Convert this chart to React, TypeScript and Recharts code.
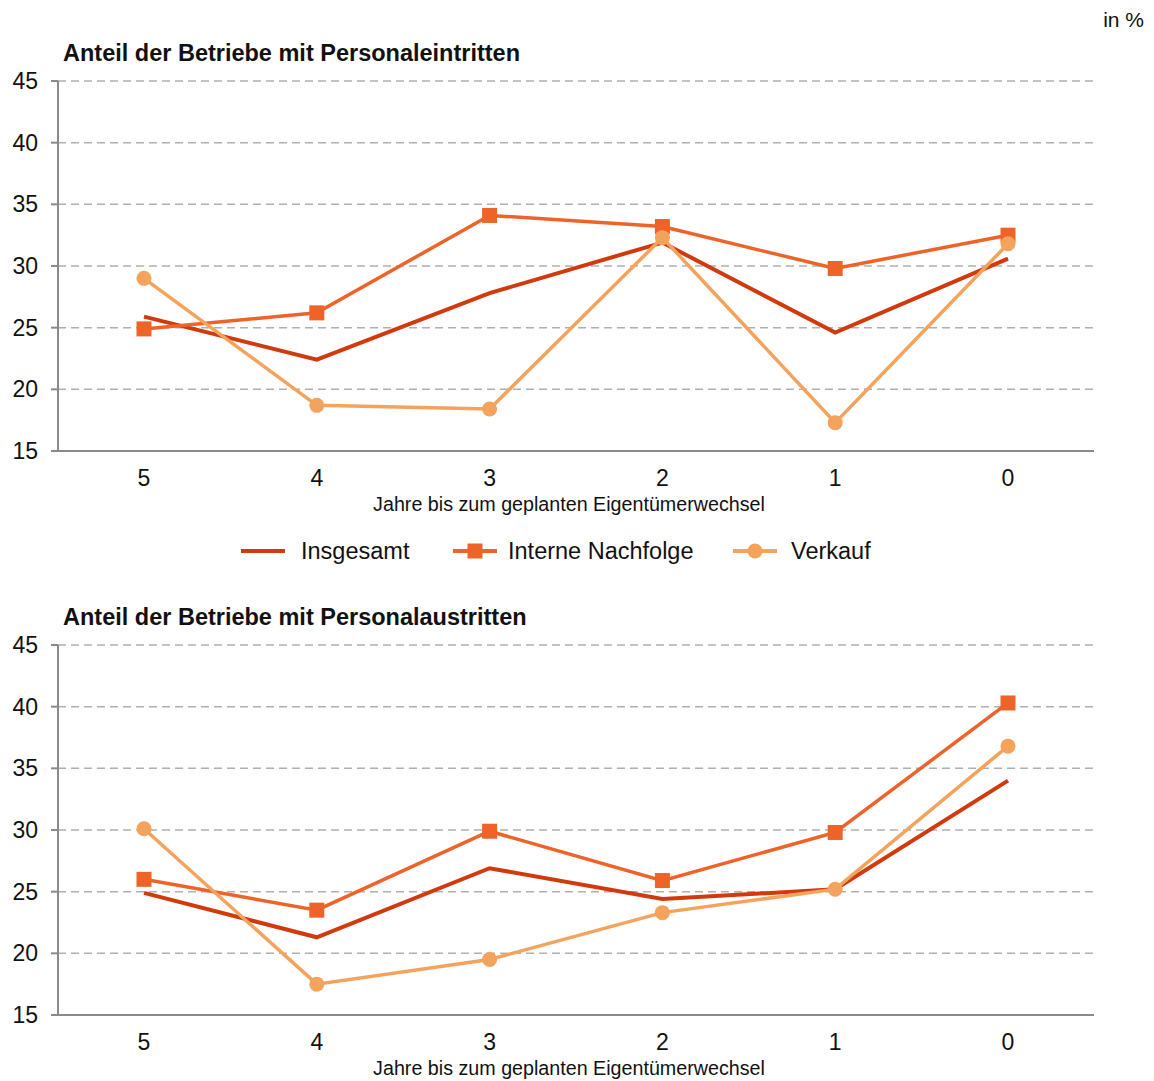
import React from 'react';
import { LineChart, Line, XAxis, YAxis, CartesianGrid } from 'recharts';

const categories = ['5', '4', '3', '2', '1', '0'];
const yTicks = [15, 20, 25, 30, 35, 40, 45];

const seriesNames = ['Insgesamt', 'Interne Nachfolge', 'Verkauf'];

const entryTotal = [25.9, 22.4, 27.8, 31.9, 24.6, 30.6];
const entryInternal = [24.9, 26.2, 34.1, 33.2, 29.8, 32.5];
const entrySale = [29.0, 18.7, 18.4, 32.3, 17.3, 31.8];

const exitTotal = [24.9, 21.3, 26.9, 24.4, 25.2, 34.0];
const exitInternal = [26.0, 23.5, 29.9, 25.9, 29.8, 40.3];
const exitSale = [30.1, 17.5, 19.5, 23.3, 25.2, 36.8];

const COLORS = { total: '#D13A0C', internal: '#EE6328', sale: '#F4A35C' };
const FONT = '"Liberation Sans", Arial, sans-serif';

const buildData = (total: number[], internal: number[], sale: number[]) =>
  categories.map((c, i) => ({ year: c, total: total[i], internal: internal[i], sale: sale[i] }));

const entryData = buildData(entryTotal, entryInternal, entrySale);
const exitData = buildData(exitTotal, exitInternal, exitSale);

const SquareDot = (props: any) => {
  const { cx, cy, key } = props;
  if (cx == null || cy == null) return null;
  return <rect key={key} x={cx - 7.5} y={cy - 7.5} width={15} height={15} fill={COLORS.internal} />;
};

const AxisTitle = (props: any) => {
  const { viewBox } = props;
  return (
    <text
      x={viewBox.x + viewBox.width / 2 - 7}
      y={viewBox.y + 60}
      textAnchor="middle"
      fontFamily={FONT}
      fontSize={19.7}
      fill="#111"
    >
      Jahre bis zum geplanten Eigentümerwechsel
    </text>
  );
};

const Panel = ({ data }: { data: any[] }) => (
  <LineChart
    width={1154}
    height={517}
    data={data}
    margin={{ top: 81, right: 60, left: 0, bottom: 6 }}
  >
    <CartesianGrid vertical={false} stroke="#b0b0b0" strokeWidth={1.5} strokeDasharray="8 5" />
    <XAxis
      dataKey="year"
      height={60}
      padding={{ left: 86, right: 86 }}
      axisLine={{ stroke: '#8a8a8a', strokeWidth: 2 }}
      tickLine={false}
      tickMargin={13}
      tick={{ fontSize: 23, fill: '#111', fontFamily: FONT }}
      label={<AxisTitle />}
    />
    <YAxis
      width={58}
      domain={[15, 45]}
      ticks={yTicks}
      interval={0}
      allowDataOverflow
      axisLine={{ stroke: '#8a8a8a', strokeWidth: 2 }}
      tickLine={{ stroke: '#8a8a8a', strokeWidth: 2 }}
      tickSize={7}
      tickMargin={13}
      tick={{ fontSize: 23, fill: '#111', fontFamily: FONT }}
    />
    <Line
      dataKey="total"
      name={seriesNames[0]}
      stroke={COLORS.total}
      strokeWidth={4}
      dot={false}
      activeDot={false}
      isAnimationActive={false}
    />
    <Line
      dataKey="internal"
      name={seriesNames[1]}
      stroke={COLORS.internal}
      strokeWidth={3.5}
      dot={<SquareDot />}
      activeDot={false}
      isAnimationActive={false}
    />
    <Line
      dataKey="sale"
      name={seriesNames[2]}
      stroke={COLORS.sale}
      strokeWidth={3.5}
      dot={{ r: 7.5, fill: COLORS.sale, stroke: COLORS.sale, strokeWidth: 0 }}
      activeDot={false}
      isAnimationActive={false}
    />
  </LineChart>
);

const LegendItem = ({ left, kind, label }: { left: number; kind: string; label: string }) => {
  const color = kind === 'total' ? COLORS.total : kind === 'internal' ? COLORS.internal : COLORS.sale;
  return (
    <div style={{ position: 'absolute', left, top: 0, height: 24, display: 'flex', alignItems: 'center' }}>
      <svg width={44} height={24} style={{ display: 'block' }}>
        <line x1={0} y1={12} x2={44} y2={12} stroke={color} strokeWidth={4} />
        {kind === 'internal' && <rect x={14.5} y={4.5} width={15} height={15} fill={color} />}
        {kind === 'sale' && <circle cx={22} cy={12} r={7.5} fill={color} />}
      </svg>
      <span style={{ marginLeft: kind === 'total' ? 16 : kind === 'internal' ? 11 : 14, fontSize: 23.5, lineHeight: '24px', color: '#111', whiteSpace: 'nowrap' }}>
        {label}
      </span>
    </div>
  );
};

const titleStyle: React.CSSProperties = {
  position: 'absolute',
  left: 63,
  fontSize: 23.5,
  fontWeight: 'bold',
  lineHeight: '23px',
  color: '#111',
  whiteSpace: 'nowrap',
};

export default function App() {
  return (
    <div style={{ position: 'absolute', left: 0, top: 0, width: 1154, height: 1081, background: '#fff', fontFamily: FONT, overflow: 'hidden' }}>
      <div style={{ position: 'absolute', top: 0, left: 0 }}>
        <Panel data={entryData} />
      </div>
      <div style={{ position: 'absolute', top: 564, left: 0 }}>
        <Panel data={exitData} />
      </div>
      <div style={{ position: 'absolute', right: 10, top: 9, fontSize: 21, lineHeight: '21px', color: '#111' }}>in %</div>
      <div style={{ ...titleStyle, top: 41.5 }}>Anteil der Betriebe mit Personaleintritten</div>
      <div style={{ ...titleStyle, top: 605.5 }}>Anteil der Betriebe mit Personalaustritten</div>
      <div style={{ position: 'absolute', left: 0, top: 539, width: 1154, height: 24 }}>
        <LegendItem left={241} kind="total" label={seriesNames[0]} />
        <LegendItem left={453} kind="internal" label={seriesNames[1]} />
        <LegendItem left={733} kind="sale" label={seriesNames[2]} />
      </div>
    </div>
  );
}
